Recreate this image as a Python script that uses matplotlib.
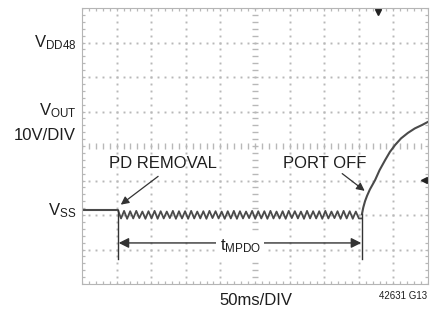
import numpy as np
import matplotlib
matplotlib.use("Agg")
import matplotlib.pyplot as plt
from matplotlib import font_manager

# pick a condensed sans if it is there
names = {f.name for f in font_manager.fontManager.ttflist}
fam = "Liberation Sans Narrow" if "Liberation Sans Narrow" in names else "Liberation Sans"
plt.rcParams["font.family"] = [fam, "DejaVu Sans"]
plt.rcParams["mathtext.fontset"] = "custom"
plt.rcParams["mathtext.rm"] = fam
plt.rcParams["mathtext.it"] = fam
fs = 13 if "Narrow" in fam else 12

# ---- data, in scope divisions (x: 50ms/DIV, y: 10V/DIV) ----
vss_level = 2.14
removal_x = 1.04
portoff_x = 8.09
ripple_hi = [2.12, 2.11, 2.12, 2.10, 2.11, 2.12, 2.11, 2.10, 2.12, 2.11,
             2.11, 2.12, 2.10, 2.11, 2.12, 2.11, 2.10, 2.11, 2.12, 2.11,
             2.10, 2.12, 2.11, 2.11, 2.12, 2.10, 2.11, 2.12, 2.11, 2.10,
             2.12, 2.11, 2.11, 2.12, 2.10, 2.11, 2.12, 2.11, 2.10, 2.12]
ripple_lo = [1.90, 1.89, 1.90, 1.91, 1.89, 1.90, 1.89, 1.90, 1.91, 1.89,
             1.90, 1.89, 1.90, 1.90, 1.89, 1.91, 1.90, 1.89, 1.90, 1.89,
             1.90, 1.91, 1.89, 1.90, 1.89, 1.90, 1.90, 1.89, 1.91, 1.90,
             1.89, 1.90, 1.90, 1.89, 1.90, 1.91, 1.89, 1.90, 1.89, 1.90]
rise_x = [8.09, 8.13, 8.18, 8.24, 8.32, 8.47, 8.60, 8.76, 8.90, 9.05, 9.22, 9.42, 9.62, 9.83, 10.0]
rise_y = [2.02, 2.22, 2.40, 2.56, 2.74, 3.01, 3.30, 3.59, 3.83, 4.03, 4.22, 4.38, 4.51, 4.61, 4.70]
marker_bottom = 0.72
tmpdo_y = 1.19

fig = plt.figure(figsize=(4.46, 3.09), dpi=100)
ax = fig.add_axes([82/446, 25/309, 346/446, 276/309])
ax.set_xlim(0, 10)
ax.set_ylim(0, 8)
ax.set_xticks([]); ax.set_yticks([])
for s in ax.spines.values():
    s.set_color("#b5b5b5"); s.set_linewidth(0.8)

# graticule: dotted grid lines, ticked centre lines and edges
gc = "#b8b8b8"
fine_x = np.arange(0, 10.01, 0.2)
fine_y = np.arange(0, 8.01, 0.2)
for gy in range(1, 8):
    if gy == 4:
        ax.plot(fine_x, np.full_like(fine_x, gy), ls="none", marker="|", ms=4, mew=1.0, color=gc)
    else:
        ax.plot(fine_x, np.full_like(fine_x, gy), ls="none", marker="s", ms=1.4, mew=0, color=gc)
for gx in range(1, 10):
    if gx == 5:
        ax.plot(np.full_like(fine_y, gx), fine_y, ls="none", marker="_", ms=4, mew=1.0, color=gc)
    else:
        ax.plot(np.full_like(fine_y, gx), fine_y, ls="none", marker="s", ms=1.4, mew=0, color=gc)
for ex in (0.03, 9.97):
    ax.plot(np.full_like(fine_y, ex), fine_y, ls="none", marker="_", ms=2.5, mew=0.9, color=gc)
for ey in (0.03, 7.97):
    ax.plot(fine_x, np.full_like(fine_x, ey), ls="none", marker="|", ms=2.5, mew=0.9, color=gc)

# trace
tc = "#4a4a4a"
n = len(ripple_hi)
rx = np.linspace(removal_x, portoff_x, 2 * n + 1)
ry = [vss_level]
for hi, lo in zip(ripple_lo, ripple_hi):
    ry += [hi, lo]
ry[-1] = ripple_lo[-1]
ax.plot([0, removal_x], [vss_level, vss_level], color=tc, lw=1.5, solid_capstyle="butt")
ax.plot(rx, ry, color=tc, lw=1.3)
ax.plot(rise_x, rise_y, color=tc, lw=1.5)

# timing marker lines
mc = "#333333"
ax.plot([removal_x, removal_x], [vss_level, marker_bottom], color=mc, lw=1.0)
ax.plot([portoff_x, portoff_x], [rise_y[0], marker_bottom], color=mc, lw=1.0)

# trigger markers
ax.plot([8.55], [7.88], marker="v", ms=5, color="#222222", clip_on=False)
ax.plot([9.88], [3.01], marker="<", ms=5, color="#222222", clip_on=False)

# annotations
txt = "#1e1e1e"
ax.annotate("", xy=(removal_x + 0.02, tmpdo_y), xytext=(portoff_x - 0.02, tmpdo_y),
            arrowprops=dict(arrowstyle="<|-|>", color=mc, lw=1.0, mutation_scale=15,
                            shrinkA=0, shrinkB=0))
ax.text(4.57, 0.99, r"t$_{\mathrm{MPDO}}$", fontsize=fs, color=txt, ha="center", va="baseline",
        zorder=6, bbox=dict(boxstyle="square,pad=0.2", fc="white", ec="none"))

ax.text(2.34, 3.36, "PD REMOVAL", fontsize=fs, color=txt, ha="center", va="baseline")
ax.annotate("", xy=(1.12, 2.30), xytext=(2.20, 3.12),
            arrowprops=dict(arrowstyle="-|>", color=mc, lw=0.9, mutation_scale=12,
                            shrinkA=0, shrinkB=0))
ax.text(7.02, 3.36, "PORT OFF", fontsize=fs, color=txt, ha="center", va="baseline")
ax.annotate("", xy=(8.17, 2.70), xytext=(7.52, 3.20),
            arrowprops=dict(arrowstyle="-|>", color=mc, lw=0.9, mutation_scale=12,
                            shrinkA=0, shrinkB=0))

# left side labels
lx = -0.17
ax.text(lx, 6.87, r"V$_{\mathrm{DD48}}$", fontsize=fs, color=txt, ha="right", va="baseline", clip_on=False)
ax.text(lx, 4.90, r"V$_{\mathrm{OUT}}$", fontsize=fs, color=txt, ha="right", va="baseline", clip_on=False)
ax.text(lx, 4.17, "10V/DIV", fontsize=fs, color=txt, ha="right", va="baseline", clip_on=False)
ax.text(lx, 2.00, r"V$_{\mathrm{SS}}$", fontsize=fs, color=txt, ha="right", va="baseline", clip_on=False)

ax.text(5.02, -0.60, "50ms/DIV", fontsize=fs, color=txt, ha="center", va="baseline", clip_on=False)
ax.text(9.98, -0.43, "42631 G13", fontsize=7, color=txt, ha="right", va="baseline", clip_on=False)

fig.savefig("out.png", dpi=100)
